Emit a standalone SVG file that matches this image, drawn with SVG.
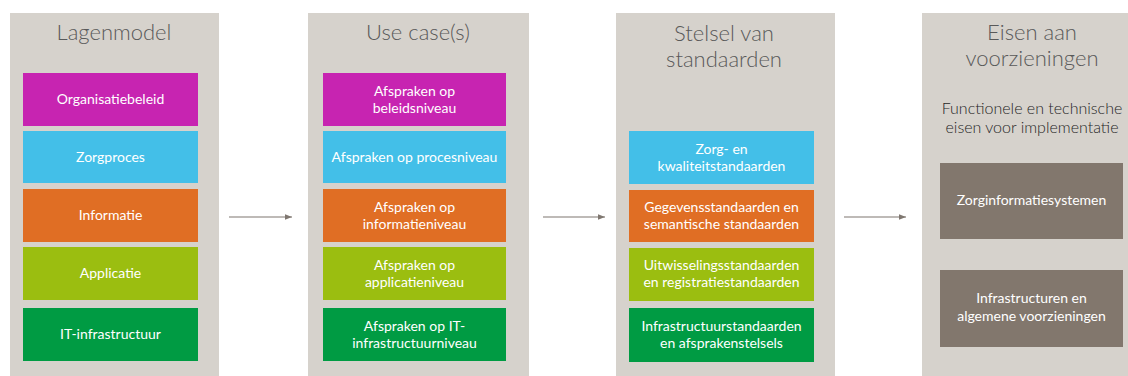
<svg xmlns="http://www.w3.org/2000/svg" width="1128" height="376" viewBox="0 0 1128 376">
  <style>
    .panel { fill: #d6d2cc; }
    .title { font-family: Lato, "Open Sans", sans-serif; font-weight: 300; font-size: 22px; fill: #595959; text-anchor: middle; }
    .sub { font-family: Lato, "Open Sans", sans-serif; font-weight: 300; font-size: 16px; fill: #262626; text-anchor: middle; }
    .lbl { font-family: Lato, "Open Sans", sans-serif; font-size: 14px; fill: #ffffff; text-anchor: middle; }
    .mag { fill: #c724b1; }
    .cya { fill: #43bfe8; }
    .ora { fill: #e06e24; }
    .lim { fill: #9bbe10; }
    .grn { fill: #009b43; }
    .brn { fill: #82776d; }
    .conn { stroke: #7f7770; stroke-width: 1.2; fill: none; marker-end: url(#arr); }
  </style>
  <defs>
    <marker id="arr" viewBox="0 0 10 10" refX="10" refY="5" markerWidth="7" markerHeight="7" markerUnits="userSpaceOnUse" orient="auto">
      <path d="M0,1 L10,5 L0,9 z" fill="#7f7770"/>
    </marker>
  </defs>
  <rect width="1128" height="376" fill="#ffffff"/>

  <!-- Column 1: layer model -->
  <g id="lagenmodel">
    <rect class="panel" x="10" y="13" width="209" height="363"/>
    <text class="title" x="114" y="40">Lagenmodel</text>
    <rect class="mag" x="23" y="73" width="175" height="53"/>
    <text class="lbl" x="110.5" y="104">Organisatiebeleid</text>
    <rect class="cya" x="23" y="131" width="175" height="52"/>
    <text class="lbl" x="110.5" y="162">Zorgproces</text>
    <rect class="ora" x="23" y="189" width="175" height="53"/>
    <text class="lbl" x="110.5" y="220">Informatie</text>
    <rect class="lim" x="23" y="247" width="175" height="53"/>
    <text class="lbl" x="110.5" y="278">Applicatie</text>
    <rect class="grn" x="23" y="308" width="175" height="53"/>
    <text class="lbl" x="110.5" y="339">IT-infrastructuur</text>
  </g>

  <!-- Column 2: use cases -->
  <g id="usecases">
    <rect class="panel" x="308" y="13" width="221" height="363"/>
    <text class="title" x="418" y="40">Use case(s)</text>
    <rect class="mag" x="323" y="73" width="183" height="53"/>
    <text class="lbl" x="414.5" y="96">Afspraken op</text>
    <text class="lbl" x="414.5" y="113">beleidsniveau</text>
    <rect class="cya" x="323" y="131" width="183" height="52"/>
    <text class="lbl" x="414.5" y="162">Afspraken op procesniveau</text>
    <rect class="ora" x="323" y="189" width="183" height="53"/>
    <text class="lbl" x="414.5" y="212">Afspraken op</text>
    <text class="lbl" x="414.5" y="229">informatieniveau</text>
    <rect class="lim" x="323" y="247" width="183" height="53"/>
    <text class="lbl" x="414.5" y="270">Afspraken op</text>
    <text class="lbl" x="414.5" y="287">applicatieniveau</text>
    <rect class="grn" x="323" y="308" width="183" height="53"/>
    <text class="lbl" x="414.5" y="331">Afspraken op IT-</text>
    <text class="lbl" x="414.5" y="348">infrastructuurniveau</text>
  </g>

  <!-- Column 3: system of standards -->
  <g id="standaarden">
    <rect class="panel" x="616" y="13" width="219" height="363"/>
    <text class="title" x="724" y="41">Stelsel van</text>
    <text class="title" x="724" y="67">standaarden</text>
    <rect class="cya" x="629" y="131" width="185" height="53"/>
    <text class="lbl" x="721.5" y="154">Zorg- en</text>
    <text class="lbl" x="721.5" y="171">kwaliteitstandaarden</text>
    <rect class="ora" x="629" y="190" width="185" height="52"/>
    <text class="lbl" x="721.5" y="212">Gegevensstandaarden en</text>
    <text class="lbl" x="721.5" y="229">semantische standaarden</text>
    <rect class="lim" x="629" y="248" width="185" height="53"/>
    <text class="lbl" x="721.5" y="270">Uitwisselingsstandaarden</text>
    <text class="lbl" x="721.5" y="287">en registratiestandaarden</text>
    <rect class="grn" x="629" y="308" width="185" height="54"/>
    <text class="lbl" x="721.5" y="331">Infrastructuurstandaarden</text>
    <text class="lbl" x="721.5" y="348">en afsprakenstelsels</text>
  </g>

  <!-- Column 4: requirements for facilities -->
  <g id="voorzieningen">
    <rect class="panel" x="922" y="13" width="206" height="363"/>
    <text class="title" x="1032" y="40">Eisen aan</text>
    <text class="title" x="1032" y="66">voorzieningen</text>
    <text class="sub" x="1032" y="114">Functionele en technische</text>
    <text class="sub" x="1032" y="133">eisen voor implementatie</text>
    <rect class="brn" x="940" y="163" width="183" height="76"/>
    <text class="lbl" x="1031.5" y="205">Zorginformatiesystemen</text>
    <rect class="brn" x="940" y="270" width="183" height="77"/>
    <text class="lbl" x="1031.5" y="303">Infrastructuren  en</text>
    <text class="lbl" x="1031.5" y="321">algemene voorzieningen</text>
  </g>

  <!-- Connectors between columns -->
  <g id="connectors">
    <line class="conn" x1="229" y1="217" x2="292" y2="217"/>
    <line class="conn" x1="543" y1="217" x2="605" y2="217"/>
    <line class="conn" x1="844" y1="217" x2="906" y2="217"/>
  </g>
</svg>
